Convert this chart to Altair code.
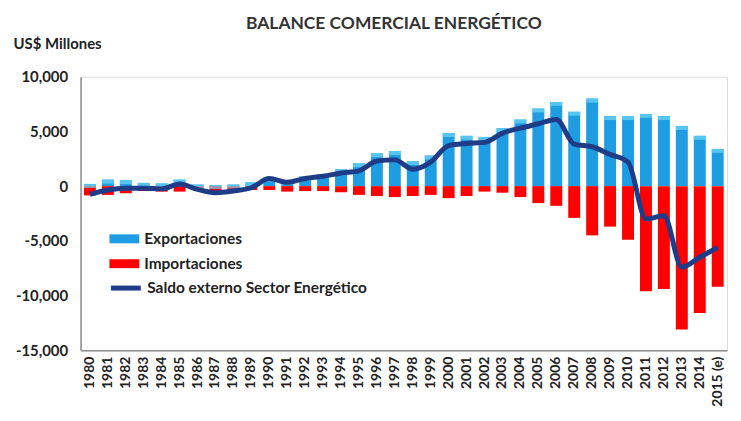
import altair as alt
import pandas as pd

FONT = "Lato"

years = ["1980", "1981", "1982", "1983", "1984", "1985", "1986", "1987", "1988", "1989",
         "1990", "1991", "1992", "1993", "1994", "1995", "1996", "1997", "1998", "1999",
         "2000", "2001", "2002", "2003", "2004", "2005", "2006", "2007", "2008", "2009",
         "2010", "2011", "2012", "2013", "2014", "2015 (e)"]

exports = [200, 600, 550, 300, 250, 600, 150, 100, 150, 350, 800, 500,
           900, 1100, 1550, 2100, 3000, 3200, 2300, 2800, 4850, 4600, 4500, 5300,
           6100, 7100, 7700, 6800, 8000, 6400, 6400, 6600, 6400, 5500, 4600, 3400]

imports = [-850, -800, -650, -450, -500, -500, -350, -650, -500, -350, -350, -500,
           -450, -450, -550, -800, -900, -1000, -900, -800, -1100, -900, -500, -600,
           -1000, -1550, -1800, -2900, -4500, -3700, -4900, -9600, -9400, -13100, -11600, -9200]

balance = [-750, -350, -200, -200, -250, 200, -300, -600, -450, -150, 700, 350,
           700, 900, 1200, 1400, 2300, 2400, 1550, 2200, 3700, 3900, 4000, 4850,
           5300, 5700, 6100, 3850, 3600, 2900, 2200, -3000, -2700, -7400, -6500, -5600]

series_bars = ["Exportaciones", "Importaciones"]
series_line = "Saldo externo Sector Energético"
y_ticks = [-15000, -10000, -5000, 0, 5000, 10000]

bars_df = pd.DataFrame({
    "year": years * 2,
    "serie": [series_bars[0]] * len(years) + [series_bars[1]] * len(years),
    "value": exports + imports,
})
exp_df = pd.DataFrame({"year": years, "value": exports})
line_df = pd.DataFrame({"year": years, "value": balance, "serie": [series_line] * len(years)})

x_enc = alt.X(
    "year:N", sort=years, title=None,
    scale=alt.Scale(paddingInner=0.36, paddingOuter=0.2),
    axis=alt.Axis(labelAngle=-90, labelFont=FONT, labelFontSize=14, labelFontWeight="bold",
                  labelColor="#222222", ticks=False, domainColor="#8c8c8c", domainWidth=1.5,
                  labelPadding=6),
)
y_enc = alt.Y(
    "value:Q",
    scale=alt.Scale(domain=[-15000, 10000], nice=False),
    axis=alt.Axis(values=y_ticks, grid=False, ticks=False, domainColor="#8c8c8c", domainWidth=1.5,
                  labelExpr="datum.value < 0 ? '-' + format(-datum.value, ',') : format(datum.value, ',')",
                  labelFont=FONT, labelFontSize=15, labelFontWeight="bold", labelColor="#222222",
                  labelPadding=13,
                  title="US$ Millones", titleAngle=0, titleX=-68, titleY=-33, titleAlign="left",
                  titleBaseline="middle", titleFont=FONT, titleFontSize=15, titleFontWeight="bold",
                  titleColor="#222222"),
)

bars = alt.Chart(bars_df).mark_bar(size=12).encode(
    x=x_enc, y=y_enc,
    fill=alt.Fill("serie:N",
                  scale=alt.Scale(domain=series_bars, range=["#1E9DE3", "#FF0000"]),
                  legend=alt.Legend(title=None, orient="none", legendX=28, legendY=147,
                                    symbolType="M-1,-0.3H1V0.3H-1Z", symbolSize=900,
                                    labelFont=FONT, labelFontSize=15.5, labelFontWeight="bold",
                                    labelColor="#222222", labelOffset=4, rowPadding=0,
                                    labelLimit=0)),
)

caps = alt.Chart(exp_df).mark_tick(size=12, thickness=4, color="#6FD6F5", yOffset=2).encode(
    x=alt.X("year:N", sort=years), y="value:Q"
)

line = alt.Chart(line_df).mark_line(interpolate="monotone", strokeWidth=5).encode(
    x=alt.X("year:N", sort=years), y="value:Q",
    stroke=alt.Stroke("serie:N", scale=alt.Scale(domain=[series_line], range=["#1F3C88"]),
                      legend=alt.Legend(title=None, orient="none", legendX=28, legendY=195,
                                        symbolType="stroke", symbolSize=900, symbolStrokeWidth=5,
                                        labelFont=FONT, labelFontSize=15.5, labelFontWeight="bold",
                                        labelColor="#222222", labelOffset=4, labelLimit=0)),
)

chart = alt.layer(bars, caps, line).resolve_legend(fill="independent", stroke="independent").properties(
    width=650, height=275,
    title=alt.TitleParams("BALANCE COMERCIAL ENERGÉTICO", font=FONT, fontSize=17.5, fontWeight="bold",
                          color="#333333", anchor="middle", offset=5, dx=-10),
).configure_view(stroke=None).configure(background="white")

chart.save("out.html", embed_options={"renderer": "svg", "actions": False})
